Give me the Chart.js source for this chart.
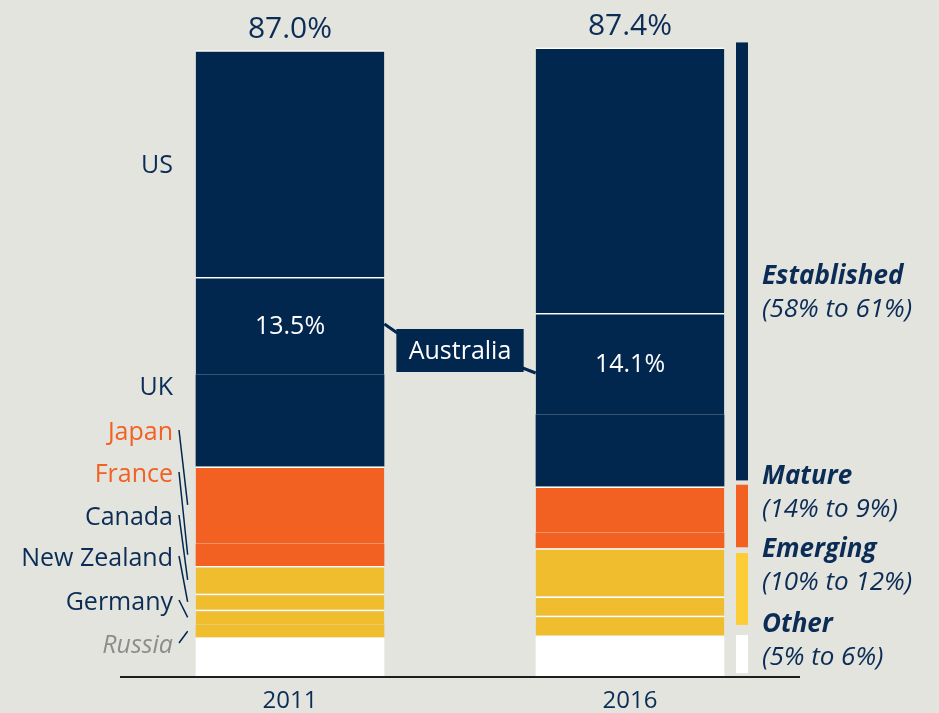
<!DOCTYPE html>
<html>
<head>
<meta charset="utf-8">
<script src="https://cdn.jsdelivr.net/npm/chart.js@4.4.1/dist/chart.umd.min.js"></script>
<style>
  html, body { margin: 0; padding: 0; background: #E4E4DF; }
</style>
</head>
<body>
<canvas id="shareChart" width="939" height="713"></canvas>
<script>
// DATOS /////////////////////////////////////////////
// Cuota por pais (%), de abajo hacia arriba en la pila
const years = ['2011', '2016'];
const other      = [5.34, 5.58];
const russia     = [1.77, null];
const germany    = [2.09, 2.79];
const newZealand = [2.23, 2.69];
const canada     = [3.86, 6.69];
const france     = [3.15, 2.19];
const japan      = [10.70, 6.41];
const uk         = [12.83, 10.04];
const australia  = [13.5, 14.1];
const us         = [31.53, 36.91];

// Grupos de la derecha (texto y rango dibujado en la barrita)
const groupNames  = ['Established', 'Mature', 'Emerging', 'Other'];
const groupRanges = ['(58% to 61%)', '(14% to 9%)', '(10% to 12%)', '(5% to 6%)'];
const bracketFrom = [27.2, 17.9, 7.1, 0.4];
const bracketTo   = [88.1, 26.6, 17.1, 5.7];

const NAVY = '#01274F';
const ORANGE = '#F26022';
const YELLOW = '#F0BD2E';
const TEXT = '#0B2D55';

function serie(label, data, color, sep) {
    return {
        label: label,
        data: data,
        backgroundColor: color,
        borderColor: '#FFFFFF',
        borderWidth: sep ? { top: 1.5, bottom: 0, left: 0, right: 0 } : 0,
        borderSkipped: false
    };
}

const shareData = {
    labels: years,
    datasets: [
        serie('Other', other, '#FFFFFF', false),
        serie('Russia', russia, YELLOW, false),
        serie('Germany', germany, YELLOW, true),
        serie('New Zealand', newZealand, YELLOW, true),
        serie('Canada', canada, YELLOW, true),
        serie('France', france, ORANGE, false),
        serie('Japan', japan, ORANGE, true),
        serie('UK', uk, NAVY, false),
        serie('Australia', australia, NAVY, true),
        serie('US', us, NAVY, true)
    ]
};

// Plugin para textos, lineas guia, callout y barrita de grupos
const annotations = {
    id: 'annotations',
    afterDatasetsDraw(chart) {
        const ctx = chart.ctx;
        const y = chart.scales.y;
        const x = chart.scales.x;
        const metaOf = name => chart.getDatasetMeta(chart.data.datasets.findIndex(d => d.label === name));
        const font = (size, style) => (style || '') + ' ' + size + 'px "Open Sans", "Noto Sans", sans-serif';

        ctx.save();

        // linea del eje
        const area = chart.chartArea;
        ctx.strokeStyle = '#1E1E1E';
        ctx.lineWidth = 2;
        ctx.beginPath();
        ctx.moveTo(area.left, area.bottom + 1);
        ctx.lineTo(area.right, area.bottom + 1);
        ctx.stroke();

        // etiquetas de los anos
        ctx.fillStyle = TEXT;
        ctx.textAlign = 'center';
        ctx.textBaseline = 'middle';
        ctx.font = font(24);
        years.forEach((yr, i) => ctx.fillText(yr, x.getPixelForValue(i), 701));

        // totales arriba
        ctx.font = font(30);
        years.forEach((yr, i) => {
            let total = 0;
            chart.data.datasets.forEach(d => total += (d.data[i] || 0));
            ctx.fillText(total.toFixed(1) + '%', x.getPixelForValue(i), y.getPixelForValue(total) - 21);
        });

        // Australia dentro de la barra
        const au = metaOf('Australia');
        ctx.fillStyle = '#FFFFFF';
        ctx.font = font(25);
        au.data.forEach((bar, i) => {
            ctx.fillText(australia[i].toFixed(1) + '%', bar.x, (bar.y + bar.base) / 2 + 1);
        });

        // callout "Australia"
        const b0 = au.data[0], b1 = au.data[1];
        const left0 = b0.x + b0.width / 2;
        const right1 = b1.x - b1.width / 2;
        const boxL = left0 + 12, boxR = right1 - 12;
        const boxT = 329, boxB = 372;
        ctx.strokeStyle = NAVY;
        ctx.lineWidth = 3;
        ctx.beginPath();
        ctx.moveTo(left0, 324);
        ctx.lineTo(boxL + 1, 333);
        ctx.moveTo(boxR - 1, 368);
        ctx.lineTo(right1, 373);
        ctx.stroke();
        ctx.fillStyle = NAVY;
        ctx.fillRect(boxL, boxT, boxR - boxL, boxB - boxT);
        ctx.fillStyle = '#FFFFFF';
        ctx.fillText('Australia', (boxL + boxR) / 2, (boxT + boxB) / 2 + 1);

        // etiquetas de paises a la izquierda
        const barLeft = b0.x - b0.width / 2;
        ctx.textAlign = 'right';
        ctx.fillStyle = TEXT;
        ctx.font = font(25);
        ctx.fillText('US', 173, 166);
        ctx.fillText('UK', 173, 388);

        const leaders = [
            ['Japan', 432, ORANGE, ''],
            ['France', 474, ORANGE, ''],
            ['Canada', 517, TEXT, ''],
            ['New Zealand', 558, TEXT, ''],
            ['Germany', 602, TEXT, ''],
            ['Russia', 645, '#8C8C8C', 'italic']
        ];
        leaders.forEach(([name, ly, color, style]) => {
            ctx.fillStyle = color;
            ctx.font = font(25, style);
            ctx.fillText(name, 173, ly + 1);
            const seg = metaOf(name).data[0];
            const midY = (seg.y + seg.base) / 2;
            ctx.strokeStyle = NAVY;
            ctx.lineWidth = 1.5;
            ctx.beginPath();
            ctx.moveTo(179, ly - 2);
            ctx.lineTo(barLeft - 8, midY);
            ctx.stroke();
        });

        // barrita de grupos a la derecha
        const bracketColors = [NAVY, ORANGE, '#FDCD37', '#FFFFFF'];
        bracketFrom.forEach((v, i) => {
            const top = y.getPixelForValue(bracketTo[i]);
            const bot = y.getPixelForValue(v);
            ctx.fillStyle = bracketColors[i];
            ctx.fillRect(736, top, 12, bot - top);
        });

        // textos de grupos
        const groupY = [277, 477, 550, 625];
        ctx.textAlign = 'left';
        ctx.fillStyle = TEXT;
        groupNames.forEach((g, i) => {
            ctx.font = font(26, 'italic bold');
            ctx.fillText(g, 762, groupY[i]);
            ctx.font = font(26, 'italic');
            ctx.fillText(groupRanges[i], 762, groupY[i] + 33);
        });

        ctx.restore();
    }
};

const shareConfig = {
    type: 'bar',
    data: shareData,
    options: {
        responsive: false,
        animation: false,
        layout: { padding: { left: 120, right: 139, top: 0, bottom: 37 } },
        datasets: { bar: { categoryPercentage: 1, barPercentage: 0.555 } },
        plugins: {
            legend: { display: false },
            tooltip: { enabled: false }
        },
        scales: {
            x: { stacked: true, display: false },
            y: { stacked: true, display: false, min: 0, max: 94 }
        }
    },
    plugins: [annotations]
};

const shareChart = new Chart(document.querySelector('#shareChart'), shareConfig);
</script>
</body>
</html>
